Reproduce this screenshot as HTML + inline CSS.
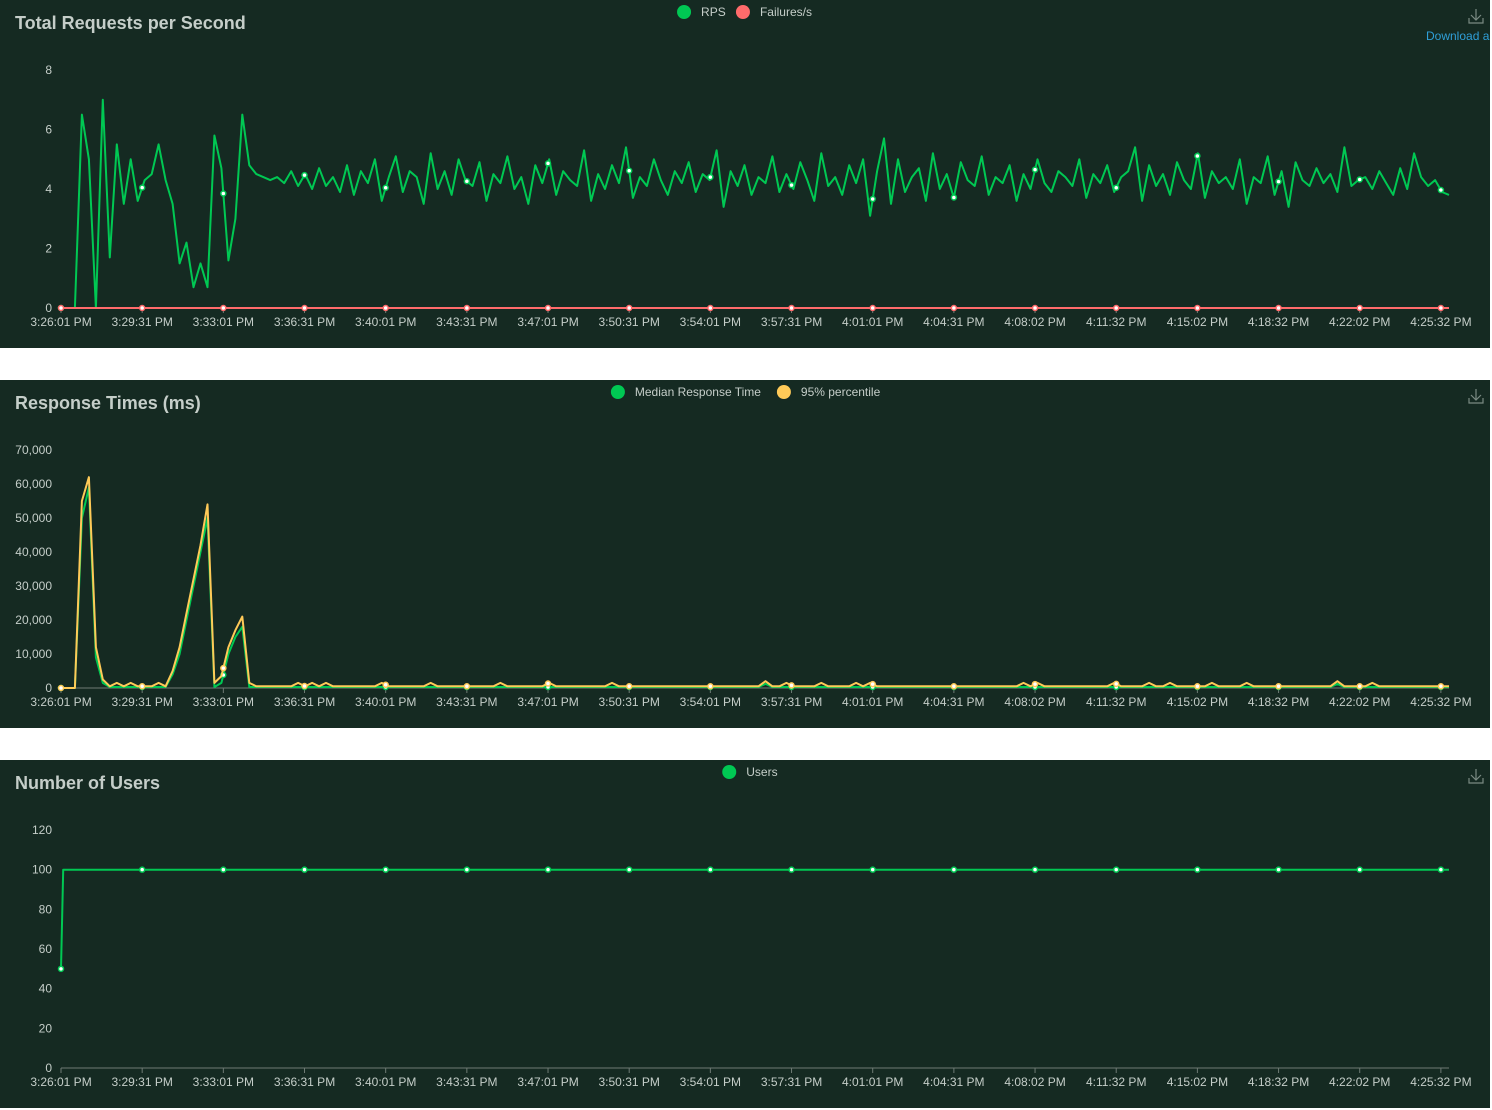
<!DOCTYPE html>
<html><head><meta charset="utf-8">
<style>
html,body{margin:0;padding:0;background:#fff;width:1492px;height:1110px;overflow:hidden;font-family:"Liberation Sans",sans-serif;}
.panel{position:absolute;left:0;width:1490px;height:348px;background:#152a22;}
svg{position:absolute;left:0;top:0;}
</style></head><body>
<div class="panel" style="top:0"><svg id="c1" width="1490" height="348"></svg></div>
<div class="panel" style="top:380px"><svg id="c2" width="1490" height="348"></svg></div>
<div class="panel" style="top:760px"><svg id="c3" width="1490" height="348"></svg></div>
<script>
const timeLabels=["3:26:01 PM","3:29:31 PM","3:33:01 PM","3:36:31 PM","3:40:01 PM","3:43:31 PM","3:47:01 PM","3:50:31 PM","3:54:01 PM","3:57:31 PM","4:01:01 PM","4:04:31 PM","4:08:02 PM","4:11:32 PM","4:15:02 PM","4:18:32 PM","4:22:02 PM","4:25:32 PM"];
const rps=[0,0,0,6.5,5,0,7,1.7,5.5,3.5,5,3.6,4.3,4.5,5.5,4.3,3.5,1.5,2.2,0.7,1.5,0.7,5.8,4.7,1.6,3,6.5,4.8,
4.5,4.4,4.3,4.4,4.2,4.6,4.1,4.5,4.0,4.7,4.1,4.4,3.9,4.8,3.8,4.6,4.2,5.0,3.6,4.4,
5.1,3.9,4.6,4.4,3.5,5.2,4.0,4.6,3.8,5.0,4.3,4.1,4.9,3.6,4.5,4.2,5.1,4.0,4.4,3.5,
4.8,4.2,5.0,3.8,4.6,4.3,4.1,5.3,3.6,4.5,4.0,4.8,4.2,5.4,3.7,4.4,4.1,5.0,4.3,3.8,
4.6,4.2,4.9,3.9,4.5,4.3,5.3,3.4,4.6,4.1,4.8,3.8,4.4,4.2,5.1,3.9,4.5,4.0,4.9,4.3,
3.6,5.2,4.1,4.4,3.8,4.8,4.2,5.0,3.1,4.6,5.7,3.5,5.0,3.9,4.4,4.7,3.6,5.2,4.0,4.5,
3.7,4.9,4.3,4.1,5.1,3.8,4.4,4.2,4.8,3.6,4.5,4.0,5.0,4.2,3.9,4.6,4.4,4.1,5.0,3.7,
4.5,4.2,4.8,3.9,4.4,4.6,5.4,3.6,4.8,4.1,4.5,3.8,4.9,4.3,4.0,5.2,3.7,4.6,4.2,4.4,
4.0,5.0,3.5,4.4,4.2,5.1,3.8,4.6,3.4,4.9,4.3,4.1,4.7,4.2,4.5,3.9,5.4,4.1,4.3,4.4,
4.0,4.6,4.2,3.8,4.7,4.0,5.2,4.4,4.1,4.3,3.9,3.8];
const failures=new Array(rps.length).fill(0);
const p95=[0,0,0,55000,62000,12000,2500,500,1500,500,1500,500,500,500,1500,500,5000,12000,22000,32000,42000,54000,1500,3500,12000,17000,21000,1500,
500,500,500,500,500,500,1500,500,1500,500,1500,500,500,500,500,500,500,500,1500,500,
500,500,500,500,500,1500,500,500,500,500,500,500,500,500,500,1500,500,500,500,500,
500,500,1500,500,500,500,500,500,500,500,500,1500,500,500,500,500,500,500,500,500,
500,500,500,500,500,500,500,500,500,500,500,500,500,2000,500,500,1500,500,500,500,
500,1500,500,500,500,500,1500,500,1500,500,500,500,500,500,500,500,500,500,500,500,
500,500,500,500,500,500,500,500,500,500,1500,500,1500,500,500,500,500,500,500,500,
500,500,500,1500,500,500,500,500,1500,500,500,1500,500,500,500,500,500,1500,500,500,
500,500,1500,500,500,500,500,500,500,500,500,500,500,500,500,2000,500,500,500,500,
1500,500,500,500,500,500,500,500,500,500,500,500];
const median=[0,0,0,50000,59000,9000,1500,300,300,300,300,300,300,300,300,300,4000,10000,20000,30000,40000,50000,300,1500,10000,15000,18000,300,
300,300,300,300,300,300,300,300,300,300,300,300,300,300,300,300,300,300,300,300,
300,300,300,300,300,300,300,300,300,300,300,300,300,300,300,300,300,300,300,300,
300,300,300,300,300,300,300,300,300,300,300,300,300,300,300,300,300,300,300,300,
300,300,300,300,300,300,300,300,300,300,300,300,300,1200,300,300,300,300,300,300,
300,300,300,300,300,300,300,300,300,300,300,300,300,300,300,300,300,300,300,300,
300,300,300,300,300,300,300,300,300,300,300,300,300,300,300,300,300,300,300,300,
300,300,300,300,300,300,300,300,300,300,300,300,300,300,300,300,300,300,300,300,
300,300,300,300,300,300,300,300,300,300,300,300,300,300,300,1200,300,300,300,300,
300,300,300,300,300,300,300,300,300,300,300,300];
const users=[50,100,100,100,100,100,100,100,100,100,100,100,100,100,100,100,100,100,100,100,100,100,100,100,100,100,100,100,100,100,100,100,100,100,100,100,100,100,100,100,100,100,100,100,100,100,100,100,100,100,100,100,100,100,100,100,100,100,100,100,100,100,100,100,100,100,100,100,100,100,100,100,100,100,100,100,100,100,100,100,100,100,100,100,100,100,100,100,100,100,100,100,100,100,100,100,100,100,100,100,100,100,100,100,100,100,100,100,100,100,100,100,100,100,100,100,100,100,100,100,100,100,100,100,100,100,100,100,100,100,100,100,100,100,100,100,100,100,100,100,100,100,100,100,100,100,100,100,100,100,100,100,100,100,100,100,100,100,100,100,100,100,100,100,100,100,100,100,100,100,100,100,100,100,100,100,100,100,100,100,100,100,100,100,100,100,100,100,100,100,100,100,100,100,100,100,100,100,100,100,100,100,100,100,100,100,100,100,100,100,100,100,100,100,100,100,100,100,100,100,100,100,100,100,100,100,100,100,100,100,100,100,100,100,100,100,100,100,100,100,100,100,100,100,100,100,100,100,100,100,100,100,100,100,100,100,100,100,100,100,100,100,100,100,100,100,100,100,100,100,100,100,100,100,100,100,100,100,100,100,100,100,100,100,100,100,100,100,100,100,100,100,100,100,100,100,100,100,100,100,100,100,100,100,100,100,100,100,100,100,100,100,100,100,100,100,100,100,100,100,100,100,100,100,100,100,100,100,100,100,100,100,100,100,100,100,100,100,100,100,100,100,100,100,100,100,100,100,100,100,100,100,100,100,100,100,100,100,100,100,100,100,100,100,100,100,100,100,100,100,100,100,100,100,100,100,100,100,100,100,100,100,100,100,100,100,100,100,100,100,100,100,100,100,100,100,100,100,100,100,100,100,100,100,100,100,100,100,100,100,100,100,100,100,100,100,100,100,100,100,100,100,100,100,100,100,100,100,100,100,100,100,100,100,100,100,100,100,100,100,100,100,100,100,100,100,100,100,100,100,100,100,100,100,100,100,100,100,100,100,100,100,100,100,100,100,100,100,100,100,100,100,100,100,100,100,100,100,100,100,100,100,100,100,100,100,100,100,100,100,100,100,100,100,100,100,100,100,100,100,100,100,100,100,100,100,100,100,100,100,100,100,100,100,100,100,100,100,100,100,100,100,100,100,100,100,100,100,100,100,100,100,100,100,100,100,100,100,100,100,100,100,100,100,100,100,100,100,100,100,100,100,100,100,100,100,100,100,100,100,100,100,100,100,100,100,100,100,100,100,100,100,100,100,100,100,100,100,100,100,100,100,100,100,100,100,100,100,100,100,100,100,100,100,100,100,100,100,100,100,100,100,100,100,100,100,100,100,100,100,100,100,100,100,100,100,100,100,100,100,100,100,100,100,100,100,100,100,100,100,100,100,100,100,100,100,100,100,100,100,100,100,100,100,100];
const rpsTicks=[0,2,4,6,8];
const rtTicks=[0,10000,20000,30000,40000,50000,60000,70000];
const userTicks=[0,20,40,60,80,100,120];

const NS="http://www.w3.org/2000/svg";
const X0=61,X1=1449,LBLSTEP=81.17;
function el(svg,tag,attrs,txt){const e=document.createElementNS(NS,tag);for(const k in attrs)e.setAttribute(k,attrs[k]);if(txt!==undefined)e.textContent=txt;svg.appendChild(e);return e;}
function xs(i,n){return X0+(X1-X0)*i/(n-1);}
function drawChart(id,title,legend,ticks,ymax,series,fmt){
  const svg=document.getElementById(id);
  const Y0=308,YT=70;
  const ys=v=>Y0-(Y0-YT)*v/ymax;
  const t=el(svg,'text',{x:15,y:29,fill:'#c5cec9','font-size':18,'font-weight':'bold'},title);
  
  let tw=0;legend.forEach(l=>tw+=30+l.name.length*6.3+10);
  let lx=758-tw/2;
  legend.forEach(l=>{
    const c=el(svg,'circle',{cx:lx+7,cy:12,r:7,fill:l.color});
    
    const tx=el(svg,'text',{x:lx+24,y:16,fill:'#c5cec9','font-size':12},l.name);
    
    lx+=30+l.name.length*6.3+10;
  });
  const g=el(svg,'g',{stroke:'#7a8a82','stroke-width':1.2,fill:'none'});
  
  el(g,'path',{d:'M1476 9 V20 M1471 15 L1476 20 L1481 15 M1469 18 V23 H1483 V18'});
  ticks.forEach(v=>{const tl=el(svg,'text',{x:52,y:ys(v)+4,fill:'#c5cec9','font-size':12,'text-anchor':'end'},fmt(v));
    });
  const ax=el(svg,'line',{x1:X0,x2:X1,y1:Y0,y2:Y0,stroke:'#6e7a74','stroke-width':1});
  
  timeLabels.forEach((lb,k)=>{const x=X0+k*LBLSTEP;
    el(svg,'line',{x1:x,x2:x,y1:Y0,y2:Y0+5,stroke:'#6e7a74'});
    const tl=el(svg,'text',{x:x,y:Y0+18,fill:'#c5cec9','font-size':12,'text-anchor':'middle'},lb);
    });
  series.forEach(s=>{
    const n=s.data.length;
    const d=s.data.map((v,i)=>(i?'L':'M')+xs(i,n).toFixed(1)+' '+ys(v).toFixed(1)).join(' ');
    const p=el(svg,'path',{d:d,fill:'none',stroke:s.color,'stroke-width':2,'stroke-linejoin':'round'});
    
    timeLabels.forEach((lb,k)=>{const x=X0+k*LBLSTEP;const f=(x-X0)/(X1-X0)*(n-1);const i=Math.min(n-2,Math.floor(f));const fr=f-i;
      const v=s.data[i]*(1-fr)+s.data[i+1]*fr;
      const m=el(svg,'circle',{cx:x,cy:ys(v),r:2.5,fill:'#fff',stroke:s.color,'stroke-width':1.5});
      });
  });
}
const num=v=>v.toLocaleString('en-US');
drawChart('c1','Total Requests per Second',[{name:'RPS',color:'#00c853'},{name:'Failures/s',color:'#ff6b6b'}],rpsTicks,8,
  [{name:'rps',color:'#00c853',data:rps},{name:'failures',color:'#ff6b6b',data:failures}],num);
drawChart('c2','Response Times (ms)',[{name:'Median Response Time',color:'#00c853'},{name:'95% percentile',color:'#ffca58'}],rtTicks,70000,
  [{name:'median',color:'#00c853',data:median},{name:'p95',color:'#ffca58',data:p95}],num);
drawChart('c3','Number of Users',[{name:'Users',color:'#00c853'}],userTicks,120,
  [{name:'users',color:'#00c853',data:users}],num);
const dl=el(document.getElementById('c1'),'text',{x:1426,y:40,fill:'#2f9fd8','font-size':12},'Download a');


</script>
</body></html>
